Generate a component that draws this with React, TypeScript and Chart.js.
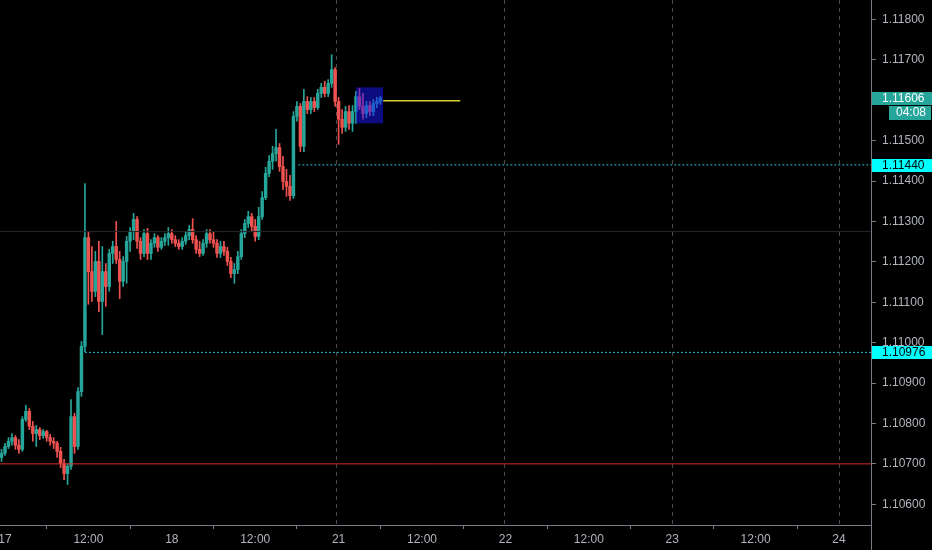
import React, { useEffect, useRef } from "react";
import { Chart, registerables } from "chart.js";

Chart.register(...registerables);

// time axis: trading hours after the 17th 00:00 (weekend removed), 30-minute candles
const BAR_HOURS = 0.5;
const FIRST_BAR_TIME = -0.5;

const opens = [
  1.10716, 1.10726, 1.10743, 1.10756, 1.10765, 1.10746, 1.10736, 1.1081, 1.1083, 1.10793,
  1.10775, 1.10785, 1.1077, 1.1078, 1.10765, 1.10756, 1.10751, 1.10731, 1.10701, 1.10676,
  1.10694, 1.10817, 1.10743, 1.10879, 1.10991, 1.1126, 1.11176, 1.11127, 1.11201, 1.11102,
  1.11176, 1.11139, 1.11221, 1.11238, 1.11206, 1.11152, 1.11201, 1.11251, 1.11275, 1.11305,
  1.11251, 1.11221, 1.1127, 1.11221, 1.11246, 1.1126, 1.11236, 1.11251, 1.1126, 1.1127,
  1.11255, 1.11246, 1.11238, 1.11251, 1.11265, 1.1128, 1.11255, 1.11231, 1.11221, 1.11246,
  1.1127, 1.11255, 1.11246, 1.11221, 1.11238, 1.11226, 1.11201, 1.11171, 1.11181, 1.11213,
  1.1127, 1.11295, 1.11312, 1.11288, 1.11263, 1.11312, 1.11359, 1.11419, 1.11449, 1.11468,
  1.11483, 1.11436, 1.11399, 1.11387, 1.11364, 1.1156, 1.11585, 1.11486, 1.11597, 1.11577,
  1.11597, 1.11582, 1.11617, 1.11632, 1.11617, 1.11642, 1.11676, 1.11597, 1.11553, 1.11533,
  1.11572, 1.11543, 1.11572, 1.11609, 1.11585, 1.11567, 1.11587, 1.11572, 1.11592, 1.11597,
];
const highs = [
  1.10736, 1.10751, 1.10765, 1.10775, 1.1077, 1.1076, 1.10817, 1.10845, 1.10837, 1.10805,
  1.10795, 1.1079, 1.10785, 1.10783, 1.10773, 1.10765, 1.10756, 1.10741, 1.10711, 1.10701,
  1.10859, 1.10825, 1.10889, 1.11003, 1.11394, 1.11275, 1.11238, 1.11226, 1.11251, 1.11238,
  1.11196, 1.11231, 1.11251, 1.113, 1.11226, 1.11213, 1.11263, 1.11285, 1.1132, 1.11312,
  1.1126, 1.1128, 1.11283, 1.11255, 1.1127, 1.11265, 1.1126, 1.1127, 1.11285, 1.1128,
  1.11265, 1.11255, 1.1126, 1.11275, 1.1129, 1.11307, 1.11265, 1.11251, 1.11255, 1.1128,
  1.1128, 1.11275, 1.11255, 1.11251, 1.11251, 1.11236, 1.11211, 1.11196, 1.11226, 1.1128,
  1.11305, 1.11325, 1.1132, 1.11305, 1.11335, 1.11374, 1.11434, 1.11463, 1.11486, 1.11528,
  1.11493, 1.11461, 1.11429, 1.11414, 1.11572, 1.11597, 1.11592, 1.11627, 1.11609, 1.11607,
  1.11607, 1.11627, 1.11642, 1.11647, 1.11651, 1.11713, 1.11681, 1.11607, 1.11577, 1.11585,
  1.11587, 1.11587, 1.11622, 1.11629, 1.11617, 1.11597, 1.11597, 1.11602, 1.11607, 1.11609,
];
const lows = [
  1.10706, 1.10721, 1.10738, 1.10746, 1.10736, 1.10726, 1.10731, 1.10805, 1.10785, 1.10756,
  1.10743, 1.1076, 1.10763, 1.10756, 1.10746, 1.10738, 1.10716, 1.10691, 1.10661, 1.10649,
  1.10686, 1.10726, 1.10736, 1.10867, 1.10978, 1.11095, 1.11102, 1.11114, 1.11077, 1.1102,
  1.1109, 1.11127, 1.11196, 1.11196, 1.11109, 1.11139, 1.11147, 1.11226, 1.11255, 1.11233,
  1.11206, 1.11213, 1.11206, 1.11206, 1.11236, 1.11226, 1.11231, 1.11241, 1.11241, 1.11246,
  1.11238, 1.11231, 1.11231, 1.11243, 1.11255, 1.11246, 1.11221, 1.11213, 1.11216, 1.11236,
  1.11246, 1.11236, 1.11211, 1.11211, 1.11216, 1.11191, 1.11161, 1.11147, 1.11171, 1.11206,
  1.1126, 1.11285, 1.11275, 1.11251, 1.11255, 1.11305, 1.11354, 1.11411, 1.11429, 1.11449,
  1.11424, 1.11379, 1.11362, 1.11352, 1.11357, 1.11548, 1.11473, 1.11473, 1.11567, 1.11567,
  1.11572, 1.11577, 1.11607, 1.11609, 1.11609, 1.11632, 1.11585, 1.11491, 1.11518, 1.11523,
  1.11528, 1.11523, 1.11543, 1.11577, 1.11553, 1.11557, 1.11562, 1.11562, 1.11582, 1.1159,
];
const closes = [
  1.10726, 1.10743, 1.10756, 1.10765, 1.10746, 1.10736, 1.1081, 1.1083, 1.10793, 1.10775,
  1.10785, 1.1077, 1.1078, 1.10765, 1.10756, 1.10751, 1.10731, 1.10701, 1.10676, 1.10694,
  1.10817, 1.10743, 1.10879, 1.10991, 1.1126, 1.11176, 1.11127, 1.11201, 1.11102, 1.11176,
  1.11139, 1.11221, 1.11238, 1.11206, 1.11152, 1.11201, 1.11251, 1.11275, 1.11305, 1.11251,
  1.11221, 1.1127, 1.11221, 1.11246, 1.1126, 1.11236, 1.11251, 1.1126, 1.1127, 1.11255,
  1.11246, 1.11238, 1.11251, 1.11265, 1.1128, 1.11255, 1.11231, 1.11221, 1.11246, 1.1127,
  1.11255, 1.11246, 1.11221, 1.11238, 1.11226, 1.11201, 1.11171, 1.11181, 1.11213, 1.1127,
  1.11295, 1.11312, 1.11288, 1.11263, 1.11312, 1.11359, 1.11419, 1.11449, 1.11468, 1.11483,
  1.11436, 1.11399, 1.11387, 1.11364, 1.1156, 1.11585, 1.11486, 1.11597, 1.11577, 1.11597,
  1.11582, 1.11617, 1.11632, 1.11617, 1.11642, 1.11676, 1.11597, 1.11553, 1.11533, 1.11572,
  1.11543, 1.11572, 1.11609, 1.11585, 1.11567, 1.11587, 1.11572, 1.11592, 1.11597, 1.11606,
];

const X_MIN = -0.72;
const X_MAX = 124.6;
const Y_MIN = 1.105487;
const Y_MAX = 1.118482;

const yTicks = [1.106, 1.107, 1.108, 1.109, 1.11, 1.111, 1.112, 1.113, 1.114, 1.115, 1.116, 1.117, 1.118];
const xTickValues = [0, 12, 24, 36, 48, 60, 72, 84, 96, 108, 120];
const xTickLabels = ["17", "12:00", "18", "12:00", "21", "12:00", "22", "12:00", "23", "12:00", "24"];
const dayBreaks = [47.6, 71.8, 95.9, 120];

const LAST_PRICE = 1.11606;
const COUNTDOWN = "04:08";
const SUPPORT_PRICE = 1.107;
const LEVEL_HIGH = 1.1144;
const LEVEL_HIGH_FROM = 42.2;
const LEVEL_LOW = 1.10976;
const LEVEL_LOW_FROM = 11.5;
const CROSSHAIR_PRICE = 1.11275;
const PROJECTION = [54.4, 65.5];
const PROJECTION_PRICE = 1.11599;
const BOX_TIMES = [50.5, 54.4];
const BOX_PRICES = [1.11543, 1.11632];

const UP = "#26a69a";
const DOWN = "#ef5350";
const AXIS = "#787b86";
const TEXT = "#b2b5be";
const FONT = "'Liberation Sans', Arial, sans-serif";

const times = opens.map((_, i) => FIRST_BAR_TIME + i * BAR_HOURS);
const candleColors = opens.map((o, i) => (closes[i] >= o ? UP : DOWN));

const overlayPlugin = {
  id: "overlay",
  beforeDatasetsDraw(chart: any) {
    const { ctx, chartArea, scales } = chart;
    ctx.save();
    ctx.strokeStyle = "#4a4a4e";
    ctx.lineWidth = 1;
    ctx.setLineDash([4, 4]);
    dayBreaks.forEach((d) => {
      const x = Math.round(scales.x.getPixelForValue(d)) + 0.5;
      ctx.beginPath();
      ctx.moveTo(x, chartArea.top);
      ctx.lineTo(x, chartArea.bottom);
      ctx.stroke();
    });
    ctx.restore();
  },
  afterDatasetsDraw(chart: any) {
    const { ctx, scales } = chart;
    const x1 = scales.x.getPixelForValue(BOX_TIMES[0]);
    const x2 = scales.x.getPixelForValue(BOX_TIMES[1]);
    const y1 = scales.y.getPixelForValue(BOX_PRICES[1]);
    const y2 = scales.y.getPixelForValue(BOX_PRICES[0]);
    ctx.save();
    ctx.fillStyle = "rgba(24,24,255,0.5)";
    ctx.fillRect(x1, y1, x2 - x1, y2 - y1);
    ctx.restore();
  },
  afterDraw(chart: any) {
    const { ctx, chartArea, scales, width, height } = chart;
    ctx.save();
    ctx.strokeStyle = AXIS;
    ctx.lineWidth = 1;
    ctx.beginPath();
    ctx.moveTo(chartArea.right + 0.5, chartArea.bottom);
    ctx.lineTo(chartArea.right + 0.5, height);
    ctx.stroke();

    const tags = [
      { value: LAST_PRICE, bg: UP, fg: "#ffffff" },
      { value: LEVEL_HIGH, bg: "#00ffff", fg: "#000000" },
      { value: LEVEL_LOW, bg: "#00ffff", fg: "#000000" },
    ];
    ctx.font = `12px ${FONT}`;
    ctx.textBaseline = "middle";
    tags.forEach((t) => {
      const y = Math.round(scales.y.getPixelForValue(t.value));
      ctx.fillStyle = t.bg;
      ctx.fillRect(chartArea.right + 1, y - 6, width - chartArea.right - 1, 13);
      ctx.fillStyle = t.fg;
      ctx.textAlign = "left";
      ctx.fillText(t.value.toFixed(5), chartArea.right + 11, y + 1);
    });
    const yl = Math.round(scales.y.getPixelForValue(LAST_PRICE));
    ctx.fillStyle = UP;
    ctx.fillRect(889, yl + 8, width - 890, 14);
    ctx.fillStyle = "#ffffff";
    ctx.textAlign = "right";
    ctx.fillText(COUNTDOWN, width - 6, yl + 15);
    ctx.restore();
  },
};

const lineSet = (from: number, to: number, price: number, color: string, dash: number[]) => ({
  type: "line" as const,
  data: [
    { x: from, y: price },
    { x: to, y: price },
  ],
  borderColor: color,
  borderWidth: 1,
  borderDash: dash,
  pointRadius: 0,
  fill: false,
  order: 1,
});

export default function App() {
  const ref = useRef<HTMLCanvasElement | null>(null);

  useEffect(() => {
    document.body.style.background = "#000";
    const canvas = ref.current;
    if (!canvas) return;
    const chart = new Chart(canvas, {
      type: "bar",
      data: {
        datasets: [
          lineSet(X_MIN, X_MAX, CROSSHAIR_PRICE, "#26262a", []),
          {
            type: "bar",
            data: times.map((t, i) => ({ x: t, y: [lows[i], highs[i]] })),
            backgroundColor: candleColors,
            barThickness: 1,
            grouped: false,
            order: 6,
          } as any,
          {
            type: "bar",
            data: times.map((t, i) => ({ x: t, y: [opens[i], closes[i]] })),
            backgroundColor: candleColors,
            barThickness: 2.8,
            minBarLength: 1,
            grouped: false,
            order: 5,
          } as any,
          lineSet(X_MIN, X_MAX, SUPPORT_PRICE, "#d0302f", []),
          lineSet(LEVEL_HIGH_FROM, X_MAX, LEVEL_HIGH, "#1fc3d6", [2, 2]),
          lineSet(LEVEL_LOW_FROM, X_MAX, LEVEL_LOW, "#1fc3d6", [2, 2]),
          { ...lineSet(PROJECTION[0], PROJECTION[1], PROJECTION_PRICE, "#d2d22a", []), borderWidth: 1.5 },
        ] as any,
      },
      options: {
        animation: false,
        responsive: true,
        maintainAspectRatio: false,
        layout: { padding: 0 },
        plugins: { legend: { display: false }, tooltip: { enabled: false } },
        scales: {
          x: {
            type: "linear",
            position: "bottom",
            min: X_MIN,
            max: X_MAX,
            offset: false,
            afterBuildTicks: (s: any) => {
              s.ticks = xTickValues.map((v) => ({ value: v }));
            },
            afterFit: (s: any) => {
              s.height = 25;
              s.paddingLeft = 0;
              s.paddingRight = 0;
            },
            grid: { display: true, drawOnChartArea: false, drawTicks: true, tickLength: 4, color: AXIS },
            border: { display: true, color: AXIS },
            ticks: {
              autoSkip: false,
              maxRotation: 0,
              padding: 3,
              color: TEXT,
              font: { family: FONT, size: 12 },
              callback: (_v: any, i: number) => xTickLabels[i] ?? "",
            },
          },
          y: {
            type: "linear",
            position: "right",
            min: Y_MIN,
            max: Y_MAX,
            afterBuildTicks: (s: any) => {
              s.ticks = yTicks.map((v) => ({ value: v }));
            },
            afterFit: (s: any) => {
              s.width = 61;
              s.paddingTop = 0;
              s.paddingBottom = 0;
            },
            grid: { display: true, drawOnChartArea: false, drawTicks: true, tickLength: 5, color: AXIS },
            border: { display: true, color: AXIS },
            ticks: {
              autoSkip: false,
              padding: 6,
              color: TEXT,
              font: { family: FONT, size: 12 },
              callback: (v: any) => Number(v).toFixed(5),
            },
          },
        },
      } as any,
      plugins: [overlayPlugin],
    });
    return () => chart.destroy();
  }, []);

  return (
    <div style={{ position: "fixed", left: 0, top: 0, width: 932, height: 550, background: "#000" }}>
      <canvas ref={ref} />
    </div>
  );
}
